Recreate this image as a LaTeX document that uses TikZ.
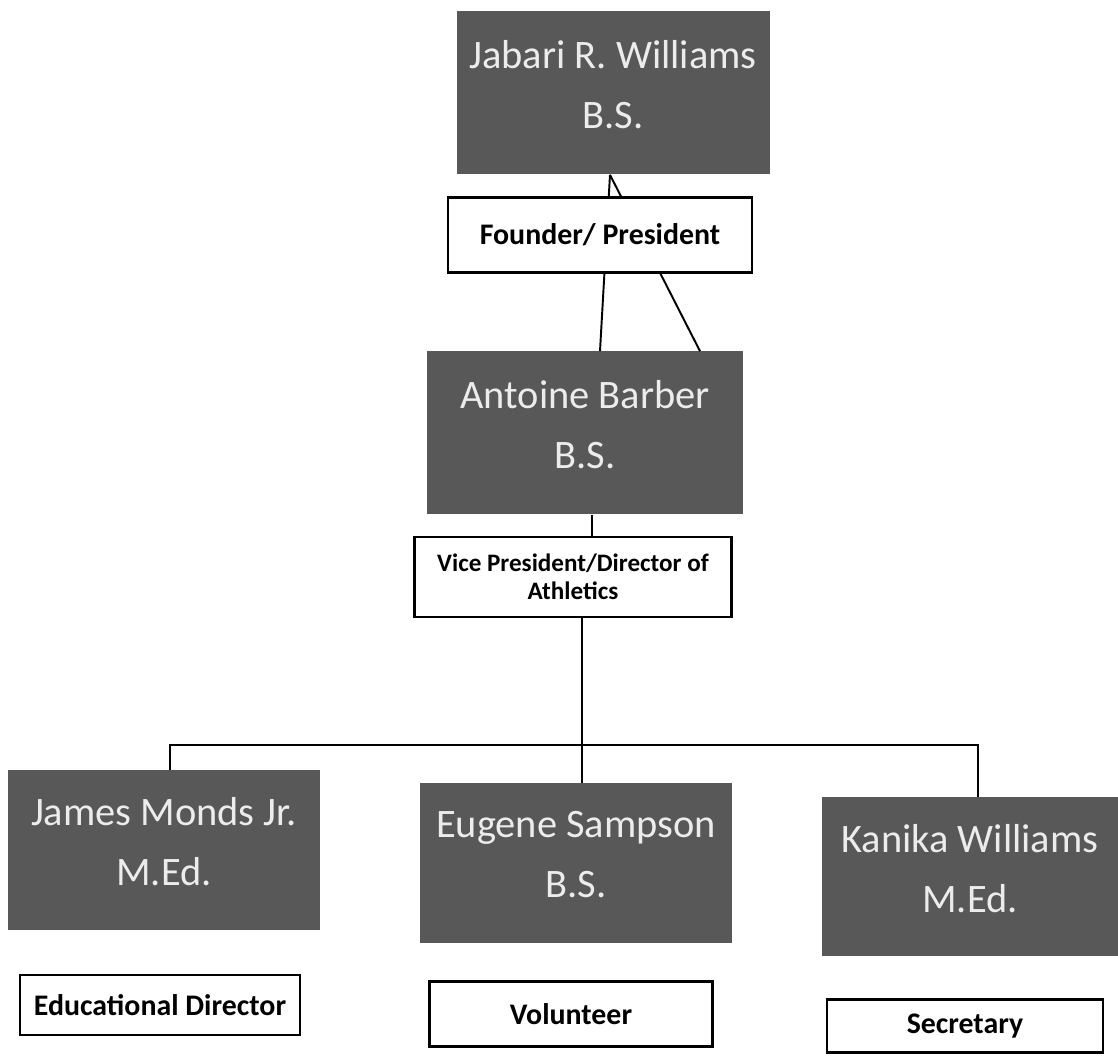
\documentclass[tikz,border=0pt]{standalone}
\usepackage{fontspec}
\setmainfont{Carlito}
\definecolor{boxgray}{RGB}{88,88,88}
\definecolor{namegray}{RGB}{236,236,236}
\tikzset{
  person/.style={fill=boxgray, text=namegray, align=center, inner sep=0pt,
    text depth=0.35cm, font=\fontsize{23}{34}\selectfont},
  role/.style={draw, fill=white, line width=1.2pt, align=center, inner sep=0pt,
    font=\bfseries\fontsize{17}{19}\selectfont},
  link/.style={line width=1.1pt}
}

\begin{document}
\begin{tikzpicture}
	\useasboundingbox (0,0) rectangle (22.36,-21.14);

	\node[person, minimum width=6.26cm, minimum height=3.26cm] (jabari) 	at (12.26,-1.86) 	{Jabari R. Williams\\B.S.};
	\node[person, minimum width=6.32cm, minimum height=3.26cm] (antoine) 	at (11.7,-8.66) 	{Antoine Barber\\B.S.};
	\node[person, minimum width=6.24cm, minimum height=3.2cm] (james) 	at (3.28,-17.0) 	{James Monds Jr.\\M.Ed.};
	\node[person, minimum width=6.24cm, minimum height=3.2cm] (eugene) 	at (11.52,-17.26) 	{Eugene Sampson\\B.S.};
	\node[person, minimum width=5.92cm, minimum height=3.18cm] (kanika) 	at (19.4,-17.54) 	{Kanika Williams\\M.Ed.};

	% lignes du haut
	\draw[link] ([xshift=0.3cm]antoine.north) to ([xshift=-0.06cm]jabari.south);
	\draw[link] ([xshift=2.3cm]antoine.north) to ([xshift=-0.06cm]jabari.south);

	\node[role, minimum width=6.08cm, minimum height=1.5cm] (founder) 	at (12.0,-4.7) 	{Founder/ President};
	\node[role, minimum width=6.34cm, minimum height=1.6cm, font=\bfseries\fontsize{14.3}{16}\selectfont] (vp) at (11.46,-11.54) {Vice President/Director of\\Athletics};

	\draw[link] ([xshift=0.14cm]antoine.south) to ([xshift=0.14cm]antoine.south |- vp.north);

	% partie basse
	\coordinate (bus)  at (11.64,-14.9);
	\coordinate (busL) at (3.4,-14.9);
	\coordinate (busR) at (19.56,-14.9);

	\draw[link] (vp.south -| bus) to (eugene.north -| bus);
	\draw[link] (james.north -| busL) -- (busL) -- (busR) -- (kanika.north -| busR);

	\node[role, minimum width=5.6cm, minimum height=1.2cm] (jamesrole) 	at (3.2,-20.1) 	{Educational Director};
	\node[role, minimum width=5.66cm, minimum height=1.3cm] (eugenerole) 	at (11.42,-20.28) 	{Volunteer};
	\node[role, minimum width=5.52cm, minimum height=1.06cm] (kanikarole) 	at (19.3,-20.52) 	{Secretary};

\end{tikzpicture}
\end{document}
